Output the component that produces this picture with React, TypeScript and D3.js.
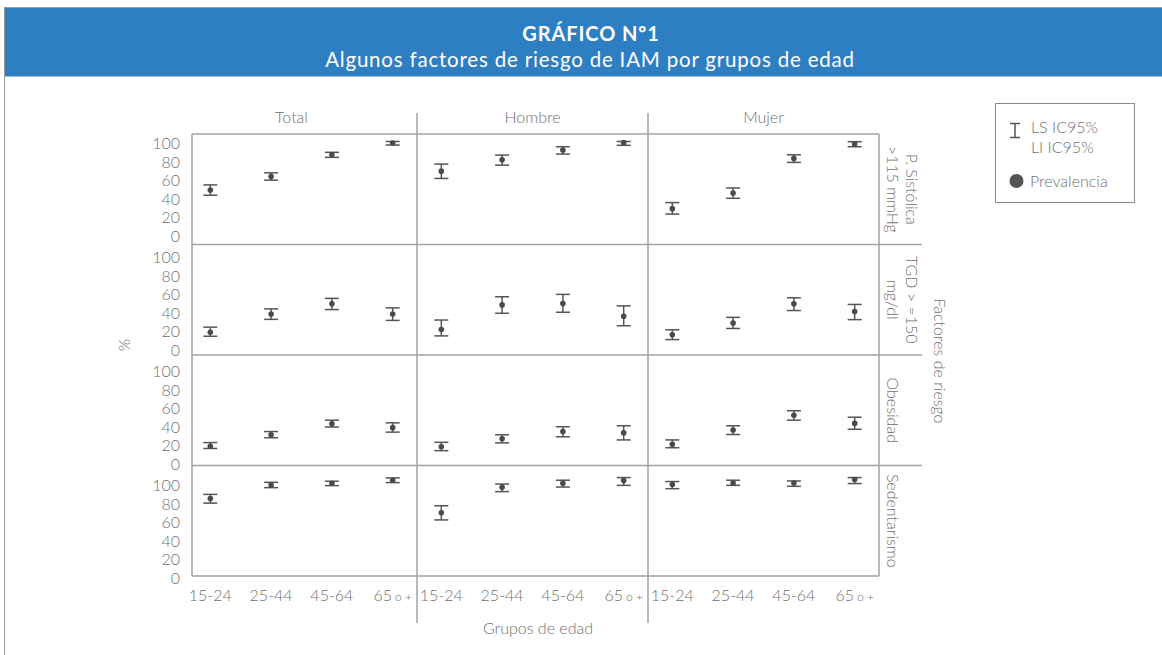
import React from "react";
import * as d3 from "d3";

// ---------- data ----------
const ageGroups = ["15-24", "25-44", "45-64", "65 o +"];
const sexGroups = ["Total", "Hombre", "Mujer"];
const factorLabelLines = [["P. Sistólica", ">115 mmHg"], ["TGD > =150", "mg/dl"], ["Obesidad"], ["Sedentarismo"]];
const yTicks = [0, 20, 40, 60, 80, 100];

// rows: Total, Hombre, Mujer ; columns: age groups
const prevSistolica = [[49.0, 63.2, 86.0, 98.4], [68.8, 80.7, 91.0, 98.8], [29.3, 45.8, 82.2, 97.4]];
const lsSistolica = [[54.3, 67.0, 88.6, 100], [76.2, 85.7, 94.5, 100], [35.7, 51.1, 86.0, 99.8]];
const liSistolica = [[43.4, 59.3, 83.3, 96.3], [61.1, 75.1, 86.8, 96.0], [23.6, 40.2, 78.0, 94.5]];

const prevTGD = [[15.6, 34.8, 45.4, 34.8], [18.4, 44.3, 45.8, 32.3], [12.8, 25.2, 45.4, 37.3]];
const lsTGD = [[20.9, 40.1, 51.2, 41.2], [28.4, 52.9, 55.4, 43.3], [18.1, 31.2, 51.8, 44.8]];
const liTGD = [[11.3, 29.1, 39.4, 28.0], [11.7, 35.5, 36.6, 22.4], [7.8, 19.5, 38.4, 28.8]];

const prevObesidad = [[11.9, 23.9, 35.5, 31.4], [11.3, 19.8, 27.3, 25.9], [13.9, 29.0, 44.4, 35.9]];
const lsObesidad = [[15.7, 27.3, 39.3, 36.5], [16.0, 23.9, 32.4, 33.4], [18.5, 33.4, 49.2, 42.4]];
const liObesidad = [[9.5, 20.8, 32.1, 26.7], [7.2, 15.4, 21.8, 18.5], [10.3, 24.2, 39.3, 29.7]];

const prevSedentarismo = [[73.2, 87.4, 89.2, 92.4], [58.1, 84.9, 89.2, 92.0], [87.8, 89.5, 89.5, 93.1]];
const lsSedentarismo = [[77.5, 90.2, 91.3, 94.8], [65.5, 88.4, 92.4, 95.2], [91.0, 92.4, 91.6, 95.2]];
const liSedentarismo = [[68.3, 84.6, 86.7, 89.9], [50.6, 80.4, 85.2, 87.0], [83.5, 87.0, 86.0, 88.9]];

const prevByFactor = [prevSistolica, prevTGD, prevObesidad, prevSedentarismo];
const lsByFactor = [lsSistolica, lsTGD, lsObesidad, lsSedentarismo];
const liByFactor = [liSistolica, liTGD, liObesidad, liSedentarismo];

// ---------- layout ----------
const W = 1162;
const H = 655;
const plotLeft = 192;
const plotRight = 879;
const plotTop = 134;
const rowH = 110.5;
const colW = 231;
const labelStep = 114;
const FONT = "Lato, 'Open Sans', sans-serif";
const GRID = "#a3a3a3";
const TXT = "#6f6f6f";
const MARK = "#555555";

export default function App() {
  const nRows = factorLabelLines.length;
  const plotBottom = plotTop + rowH * nRows;

  const colScale = d3
    .scaleBand<string>()
    .domain(sexGroups)
    .range([plotRight - colW * sexGroups.length, plotRight]);

  const xFor = (sex: string) =>
    d3
      .scalePoint<string>()
      .domain(ageGroups)
      .range([colScale(sex)!, colScale(sex)! + colScale.bandwidth()])
      .padding(0.4);

  const rowTop = (k: number) => plotTop + rowH * k;
  const yFor = (k: number) =>
    d3.scaleLinear().domain([0, 100]).range([rowTop(k) + rowH - 8, rowTop(k) + 7.5]);
  const yLabelFor = (k: number) =>
    d3
      .scaleLinear()
      .domain([0, 100])
      .range([plotTop + rowH - 8 + labelStep * k, plotTop + 9.3 + labelStep * k]);

  const sepXs = sexGroups.slice(1).map((s) => colScale(s)!);

  return (
    <svg
      width={W}
      height={H}
      style={{ position: "absolute", left: 0, top: 0, display: "block", background: "#fff" }}
      fontFamily={FONT}
      fontWeight={300}
    >
      {/* header */}
      <line x1={4} x2={W} y1={7.5} y2={7.5} stroke="#9a9a9a" strokeWidth={1} />
      <line x1={4.5} x2={4.5} y1={7} y2={H} stroke="#9a9a9a" strokeWidth={1} />
      <rect x={5} y={8} width={W - 5} height={68.5} fill="#2e7ec4" />
      <text x={591} y={40.5} textAnchor="middle" fill="#fff" fontSize={20} fontWeight={700} letterSpacing={0.9}>
        GRÁFICO Nº1
      </text>
      <text x={590} y={67} textAnchor="middle" fill="#fff" fontSize={20.5} fontWeight={400} letterSpacing={0.8}>
        Algunos factores de riesgo de IAM por grupos de edad
      </text>

      {/* column headers */}
      {sexGroups.map((s) => (
        <text
          key={s}
          x={colScale(s)! + colScale.bandwidth() / 2 - (s === "Total" ? 10 : 0)}
          y={117}
          dy="0.35em"
          textAnchor="middle"
          fill={TXT}
          fontSize={16}
        >
          {s}
        </text>
      ))}

      {/* frame */}
      <line x1={plotLeft} x2={plotRight} y1={plotTop} y2={plotTop} stroke={GRID} strokeWidth={1.5} />
      <line x1={plotLeft} x2={plotRight} y1={plotBottom} y2={plotBottom} stroke={GRID} strokeWidth={1.5} />
      <line x1={plotLeft} x2={plotLeft} y1={plotTop} y2={plotBottom} stroke={GRID} strokeWidth={1.5} />
      <line x1={plotRight} x2={plotRight} y1={plotTop} y2={plotBottom} stroke={GRID} strokeWidth={1.5} />
      {d3.range(1, nRows).map((k) => (
        <line key={k} x1={plotLeft} x2={922} y1={rowTop(k)} y2={rowTop(k)} stroke={GRID} strokeWidth={1.5} />
      ))}
      {sepXs.map((x, i) => (
        <line key={i} x1={x} x2={x} y1={113} y2={623} stroke={GRID} strokeWidth={1.5} />
      ))}

      {/* y tick labels */}
      {factorLabelLines.map((_, k) => {
        const yl = yLabelFor(k);
        return yTicks.map((t) => (
          <text key={`${k}-${t}`} x={180} y={yl(t)} dy="0.35em" textAnchor="end" fill={TXT} fontSize={16}>
            {t}
          </text>
        ));
      })}

      {/* row labels on the right */}
      {factorLabelLines.map((lines, k) => {
        const cy = rowTop(k) + rowH / 2;
        return lines.map((ln, i) => {
          const x = 893 + (lines.length - 1 - i) * 18.5;
          return (
            <text
              key={`${k}-${i}`}
              transform={`translate(${x},${cy}) rotate(90)`}
              textAnchor="middle"
              dy="0.35em"
              fill={TXT}
              fontSize={16}
            >
              {ln}
            </text>
          );
        });
      })}
      <text transform={`translate(940,361) rotate(90)`} textAnchor="middle" dy="0.35em" fill={TXT} fontSize={16}>
        Factores de riesgo
      </text>
      <text transform={`translate(124,345) rotate(-90)`} textAnchor="middle" dy="0.35em" fill={TXT} fontSize={16}>
        %
      </text>

      {/* x tick labels */}
      {sexGroups.map((s) => {
        const x = xFor(s);
        return ageGroups.map((a) => {
          const parts = a.split(" ");
          return (
            <text key={`${s}-${a}`} x={x(a)} y={595} dy="0.35em" textAnchor="middle" fill={TXT} fontSize={16}>
              {parts[0]}
              {parts.length > 1 && (
                <tspan fontSize={12} dx={3}>
                  {parts.slice(1).join(" ")}
                </tspan>
              )}
            </text>
          );
        });
      })}
      <text x={538} y={628} dy="0.35em" textAnchor="middle" fill={TXT} fontSize={16}>
        Grupos de edad
      </text>

      {/* error bars + points */}
      {factorLabelLines.map((_, k) => {
        const y = yFor(k);
        return sexGroups.map((s, si) => {
          const x = xFor(s);
          return ageGroups.map((a, ai) => {
            const cx = x(a)!;
            const ls = lsByFactor[k][si][ai];
            const li = liByFactor[k][si][ai];
            const p = prevByFactor[k][si][ai];
            return (
              <g key={`${k}-${s}-${a}`}>
                <line x1={cx} x2={cx} y1={y(ls)} y2={y(li)} stroke={MARK} strokeWidth={1.5} />
                <line x1={cx - 7} x2={cx + 7} y1={y(ls)} y2={y(ls)} stroke={MARK} strokeWidth={1.5} />
                <line x1={cx - 7} x2={cx + 7} y1={y(li)} y2={y(li)} stroke={MARK} strokeWidth={1.5} />
                <circle cx={cx} cy={y(p)} r={2.8} fill="#4a4a4a" />
              </g>
            );
          });
        });
      })}

      {/* legend */}
      <rect x={995.5} y={103.5} width={139} height={99} fill="#fff" stroke="#8a8a8a" strokeWidth={1} />
      <line x1={1015} x2={1015} y1={123.5} y2={137.5} stroke={MARK} strokeWidth={1.5} />
      <line x1={1010} x2={1020} y1={123.5} y2={123.5} stroke={MARK} strokeWidth={1.5} />
      <line x1={1010} x2={1020} y1={137.5} y2={137.5} stroke={MARK} strokeWidth={1.5} />
      <text x={1031} y={127} dy="0.35em" fill={TXT} fontSize={16}>
        LS IC95%
      </text>
      <text x={1031} y={147} dy="0.35em" fill={TXT} fontSize={16}>
        LI IC95%
      </text>
      <circle cx={1016.5} cy={181} r={7} fill="#555" />
      <text x={1030} y={181} dy="0.35em" fill={TXT} fontSize={16}>
        Prevalencia
      </text>
    </svg>
  );
}
